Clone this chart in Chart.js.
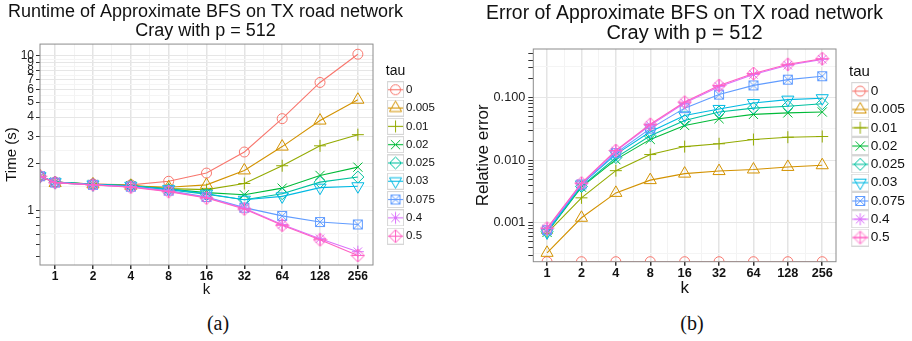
<!DOCTYPE html>
<html>
<head>
<meta charset="utf-8">
<script src="https://cdn.jsdelivr.net/npm/chart.js@4.4.1/dist/chart.umd.min.js"></script>
<style>
  html, body { margin: 0; padding: 0; background: #fff; width: 912px; height: 341px; overflow: hidden; }
  .wrap { position: absolute; top: 0; }
  .cap { position: absolute; top: 311px; line-height: 24px; font-family: "Liberation Serif", "DejaVu Serif", serif;
         font-size: 20px; color: #111; transform: translateX(-50%); }
</style>
</head>
<body>
<div class="wrap" style="left:-7px"><canvas id="runtimeChart" width="445" height="300"></canvas></div>
<div class="wrap" style="left:465px"><canvas id="errorChart" width="447" height="300"></canvas></div>
<div class="cap" style="left:218px">(a)</div>
<div class="cap" style="left:692px">(b)</div>
<script>
// ---- data ----
const tauLabels = ["0", "0.005", "0.01", "0.02", "0.025", "0.03", "0.075", "0.4", "0.5"];
const kTicks = [1, 2, 4, 8, 16, 32, 64, 128, 256];
const kTickLabels = ["1", "2", "4", "8", "16", "32", "64", "128", "256"];

// runtime: k = 0 comes first (log scale puts it on the left panel edge, as ggplot does)
const kRuntime = [0, 1, 2, 4, 8, 16, 32, 64, 128, 256];
const runtimeTau0    = [1.66, 1.52, 1.48, 1.46, 1.54, 1.74, 2.38, 3.91, 6.70, 10.2];
const runtimeTau0005 = [1.66, 1.50, 1.47, 1.44, 1.41, 1.46, 1.81, 2.58, 3.80, 5.18];
const runtimeTau001  = [1.66, 1.52, 1.48, 1.45, 1.38, 1.36, 1.49, 1.94, 2.61, 3.08];
const runtimeTau002  = [1.66, 1.52, 1.47, 1.44, 1.37, 1.30, 1.26, 1.39, 1.68, 1.90];
const runtimeTau0025 = [1.66, 1.52, 1.47, 1.44, 1.36, 1.27, 1.17, 1.28, 1.52, 1.64];
const runtimeTau003  = [1.66, 1.52, 1.47, 1.44, 1.37, 1.28, 1.17, 1.23, 1.40, 1.43];
const runtimeTau0075 = [1.66, 1.51, 1.46, 1.42, 1.34, 1.22, 1.04, 0.92, 0.84, 0.81];
const runtimeTau04   = [1.66, 1.51, 1.46, 1.42, 1.33, 1.21, 1.03, 0.81, 0.655, 0.54];
const runtimeTau05   = [1.66, 1.51, 1.46, 1.41, 1.32, 1.20, 1.02, 0.80, 0.645, 0.51];
const runtimeTickLabels = [1, 2, 3, 4, 5, 6, 7, 8, 9, 10];

// relative error: tau = 0 is exact (0), which sits on the bottom panel edge
const kError = [1, 2, 4, 8, 16, 32, 64, 128, 256];
const errorTau0    = [0, 0, 0, 0, 0, 0, 0, 0, 0];
const errorTau0005 = [0.00033, 0.0012, 0.0030, 0.0048, 0.0061, 0.0067, 0.0071, 0.0078, 0.0083];
const errorTau001  = [0.00068, 0.0025, 0.0068, 0.0123, 0.0165, 0.0183, 0.0214, 0.0233, 0.0239];
const errorTau002  = [0.00070, 0.0037, 0.0102, 0.0215, 0.0359, 0.046, 0.054, 0.057, 0.059];
const errorTau0025 = [0.00072, 0.0038, 0.0110, 0.0245, 0.043, 0.059, 0.068, 0.073, 0.080];
const errorTau003  = [0.00070, 0.0041, 0.0124, 0.0285, 0.052, 0.066, 0.082, 0.093, 0.098];
const errorTau0075 = [0.00076, 0.0041, 0.0130, 0.0320, 0.068, 0.112, 0.157, 0.194, 0.22];
const errorTau04   = [0.00080, 0.0042, 0.0140, 0.0360, 0.082, 0.150, 0.235, 0.33, 0.41];
const errorTau05   = [0.00082, 0.0043, 0.0143, 0.0375, 0.085, 0.157, 0.243, 0.342, 0.42];
const errorTickLabels = ["0.001", "0.010", "0.100"];

const runtimeSeries = [runtimeTau0, runtimeTau0005, runtimeTau001, runtimeTau002, runtimeTau0025,
                       runtimeTau003, runtimeTau0075, runtimeTau04, runtimeTau05];
const errorSeries = [errorTau0, errorTau0005, errorTau001, errorTau002, errorTau0025,
                     errorTau003, errorTau0075, errorTau04, errorTau05];

// ---- axis ranges (ggplot 5% expansion on log scales) ----
const kMin = Math.pow(2, -0.4), kMax = Math.pow(2, 8.4);
const runtimeMin = 0.443, runtimeMax = 11.86;
const errorMin = 0.000238, errorMax = 0.6;

// ---- style ----
Chart.defaults.font.family = '"Liberation Sans", Arial, Helvetica, sans-serif';
Chart.defaults.color = "#222";
const colors = ["#F8766D", "#D39200", "#93AA00", "#00BA38", "#00C19F", "#00B9E3", "#619CFF", "#DB72FB", "#FF61C3"];

function boxCross(color) {
  const c = document.createElement("canvas");
  c.width = 12; c.height = 12;
  const g = c.getContext("2d");
  g.strokeStyle = color; g.lineWidth = 1;
  g.strokeRect(1.5, 1.5, 9, 9);
  g.beginPath();
  g.moveTo(1.5, 1.5); g.lineTo(10.5, 10.5);
  g.moveTo(10.5, 1.5); g.lineTo(1.5, 10.5);
  g.stroke();
  return c;
}
function diamondPlus(color) {
  const c = document.createElement("canvas");
  c.width = 15; c.height = 15;
  const g = c.getContext("2d");
  g.strokeStyle = color; g.lineWidth = 1;
  g.beginPath();
  g.moveTo(7.5, 1); g.lineTo(14, 7.5); g.lineTo(7.5, 14); g.lineTo(1, 7.5); g.closePath();
  g.moveTo(7.5, 1); g.lineTo(7.5, 14);
  g.moveTo(1, 7.5); g.lineTo(14, 7.5);
  g.stroke();
  return c;
}

const markers = [
  { pointStyle: "circle", radius: 5, rotation: 0 },
  { pointStyle: "triangle", radius: 7, rotation: 0 },
  { pointStyle: "cross", radius: 6, rotation: 0 },
  { pointStyle: "crossRot", radius: 6.5, rotation: 0 },
  { pointStyle: "rectRot", radius: 6, rotation: 0 },
  { pointStyle: "triangle", radius: 7, rotation: 180 },
  { pointStyle: boxCross(colors[6]), radius: 6, rotation: 0 },
  { pointStyle: "star", radius: 6, rotation: 0 },
  { pointStyle: diamondPlus(colors[8]), radius: 7, rotation: 0 },
];

// legend key: grey framed box with the line and marker, drawn at the right end of the image
function makeKey(i, boxSize, imgW) {
  const c = document.createElement("canvas");
  c.width = imgW; c.height = boxSize;
  const g = c.getContext("2d");
  const x0 = imgW - boxSize;
  g.fillStyle = "#fff";
  g.fillRect(x0, 0, boxSize, boxSize);
  g.strokeStyle = "#d6d6d6"; g.lineWidth = 1;
  g.strokeRect(x0 + 0.5, 0.5, boxSize - 1, boxSize - 1);
  const cx = x0 + boxSize / 2, cy = boxSize / 2;
  g.strokeStyle = colors[i]; g.lineWidth = 1.1;
  g.beginPath(); g.moveTo(x0 + 1, cy); g.lineTo(x0 + boxSize - 1, cy); g.stroke();
  const m = markers[i];
  if (typeof m.pointStyle === "string") {
    g.fillStyle = "rgba(0,0,0,0)"; g.lineWidth = 1;
    Chart.helpers.drawPoint(g, { pointStyle: m.pointStyle, radius: m.radius, rotation: m.rotation, borderWidth: 1 }, cx, cy);
  } else {
    g.drawImage(m.pointStyle, cx - m.pointStyle.width / 2, cy - m.pointStyle.height / 2);
  }
  return c;
}

const panelBorder = {
  id: "panelBorder",
  afterDatasetsDraw(chart) {
    const { ctx, chartArea: a } = chart;
    ctx.save();
    ctx.strokeStyle = "#8c8c8c";
    ctx.lineWidth = 1;
    ctx.strokeRect(a.left, a.top, a.right - a.left, a.bottom - a.top);
    ctx.restore();
  }
};

// the legend box stays narrow (so "tau" centres like ggplot's), but its labels may run past it
const legendOverflow = {
  id: "legendOverflow",
  afterLayout(chart) {
    if (chart.legend) chart.legend.right = chart.width;
  }
};

function makeDataset(i, xs, ys, xFloor, yFloor) {
  const m = markers[i];
  return {
    label: tauLabels[i],
    data: xs.map((x, j) => ({ x: x > 0 ? x : xFloor, y: ys[j] > 0 ? ys[j] : yFloor })),
    borderColor: colors[i],
    backgroundColor: "transparent",
    pointBorderColor: colors[i],
    pointBackgroundColor: "transparent",
    pointStyle: m.pointStyle,
    pointRadius: m.radius,
    pointRotation: m.rotation,
    pointBorderWidth: 1,
    borderWidth: 1.1,
    tension: 0,
    clip: 0,
    order: tauLabels.length - i,
  };
}

function legendOptions(keys, fontSize, pad, boxW, titleSize, titlePad, maxWidth) {
  return {
    position: "right",
    align: "center",
    fullSize: false,
    maxWidth: maxWidth,
    title: { display: true, text: "tau", position: "center", color: "#111", font: { size: titleSize }, padding: titlePad },
    labels: {
      usePointStyle: true,
      pointStyleWidth: boxW,
      padding: pad,
      color: "#111",
      font: { size: fontSize },
      generateLabels: (chart) => chart.data.datasets.map((ds, i) => ({
        text: ds.label, pointStyle: keys[i], datasetIndex: i, hidden: false,
        lineWidth: 0, fillStyle: "transparent", strokeStyle: "transparent",
      })),
    },
  };
}

const xMinor = [0.5, 1.5, 2.5, 3.5, 4.5, 5.5, 6.5, 7.5].map(e => Math.pow(2, e));
function xScale(height, fontSize, titleSize) {
  return {
    type: "logarithmic", position: "bottom", bounds: "data", min: kMin, max: kMax,
    afterBuildTicks: (s) => { s.ticks = kTicks.concat(xMinor).sort((a, b) => a - b).map(v => ({ value: v })); },
    afterFit: (s) => { s.height = height; },
    ticks: {
      autoSkip: false, maxRotation: 0, minRotation: 0, padding: 0, color: "#111",
      font: { size: fontSize, weight: "bold" },
      callback: (v) => { const i = kTicks.indexOf(v); return i >= 0 ? kTickLabels[i] : ""; },
    },
    grid: {
      color: (c) => (c.tick && kTicks.includes(c.tick.value)) ? "#e4e4e4" : "#f3f3f3",
      lineWidth: (c) => (c.tick && kTicks.includes(c.tick.value)) ? 1.5 : 1,
      tickColor: (c) => (c.tick && kTicks.includes(c.tick.value)) ? "#333" : "rgba(0,0,0,0)",
      tickLength: 4,
    },
    border: { display: false },
    title: { display: true, text: "k", color: "#111", font: { size: titleSize }, padding: { top: 0, bottom: 1 } },
  };
}

// ---- (a) runtime ----
const runtimeLogTicks = [0.5, 0.6, 0.7, 0.8, 0.9, 1, 2, 3, 4, 5, 6, 7, 8, 9, 10];
const runtimeMinor = [0.5, 1, 2, 3, 4, 5, 6, 7, 8, 9].map((v, i) => i === 0 ? Math.sqrt(0.5) : Math.sqrt(v * (v + 1)));
const runtimeKeys = tauLabels.map((t, i) => makeKey(i, 17, 28));

new Chart(document.getElementById("runtimeChart").getContext("2d"), {
  type: "line",
  data: { datasets: runtimeSeries.map((ys, i) => makeDataset(i, kRuntime, ys, kMin, runtimeMin)) },
  options: {
    responsive: false, animation: false, events: [],
    layout: { padding: { left: 0, right: 20, top: 0, bottom: 0 } },
    plugins: {
      title: {
        display: true, color: "#111",
        text: ["Runtime of Approximate BFS on TX road network", "Cray with p = 512"],
        font: { size: 18, weight: "normal", lineHeight: 1.03 },
        padding: { top: 3.25, bottom: 3.75 },
      },
      legend: legendOptions(runtimeKeys, 11.5, 6.8, 20.5, 14, { top: 4, bottom: -4 }, 45),
      tooltip: { enabled: false },
    },
    scales: {
      x: xScale(35, 12, 15),
      y: {
        type: "logarithmic", bounds: "data", min: runtimeMin, max: runtimeMax,
        afterBuildTicks: (s) => { s.ticks = runtimeLogTicks.concat(runtimeMinor).sort((a, b) => a - b).map(v => ({ value: v })); },
        afterFit: (s) => { s.width = 47; },
        ticks: {
          autoSkip: false, padding: 2, color: "#222", font: { size: 12 },
          callback: (v) => runtimeTickLabels.includes(v) ? String(v) : "",
        },
        grid: {
          color: (c) => !c.tick ? "rgba(0,0,0,0)" : runtimeTickLabels.includes(c.tick.value) ? "#e6e6e6"
                        : runtimeMinor.includes(c.tick.value) ? "#f4f4f4" : "rgba(0,0,0,0)",
          tickColor: (c) => (c.tick && runtimeLogTicks.includes(c.tick.value)) ? "#333" : "rgba(0,0,0,0)",
          tickLength: 4,
        },
        border: { display: false },
        title: { display: true, text: "Time (s)", color: "#111", font: { size: 15 }, padding: { top: 10, bottom: 0 } },
      },
    },
  },
  plugins: [panelBorder, legendOverflow],
});

// ---- (b) relative error ----
const errorLogTicks = [];
[-4, -3, -2, -1].forEach(e => { for (let m = 1; m <= 9; m++) { const v = m * Math.pow(10, e); if (v > errorMin && v < errorMax) errorLogTicks.push(v); } });
const errorMajor = [0.001, 0.01, 0.1];
const errorMinor = [-3.5, -2.5, -1.5, -0.5].map(e => Math.pow(10, e));
const isDecade = (v) => Math.abs(Math.log10(v) - Math.round(Math.log10(v))) < 1e-9;
const errorKeys = tauLabels.map((t, i) => makeKey(i, 18, 34));

new Chart(document.getElementById("errorChart").getContext("2d"), {
  type: "line",
  data: { datasets: errorSeries.map((ys, i) => makeDataset(i, kError, ys, kMin, errorMin)) },
  options: {
    responsive: false, animation: false, events: [],
    layout: { padding: { left: 21, right: 29, top: 0, bottom: 0 } },
    plugins: {
      title: {
        display: true, color: "#111",
        text: ["Error of Approximate BFS on TX road network", "Cray with p = 512"],
        font: { size: 20, weight: "normal", lineHeight: 1.0 },
        padding: { top: 3.5, bottom: 5.5 },
      },
      legend: legendOptions(errorKeys, 13.7, 4.6, 23.25, 15, { top: 2.5, bottom: -2.5 }, 47),
      tooltip: { enabled: false },
    },
    scales: {
      x: xScale(38.3, 12.7, 17),
      y: {
        type: "logarithmic", bounds: "data", min: errorMin, max: errorMax,
        afterBuildTicks: (s) => { s.ticks = errorLogTicks.concat(errorMinor).sort((a, b) => a - b).map(v => ({ value: v })); },
        afterFit: (s) => { s.width = 47.3; },
        ticks: {
          autoSkip: false, padding: 3, color: "#222", font: { size: 12.7 },
          callback: (v) => { const i = errorMajor.findIndex(d => Math.abs(d - v) < 1e-12); return i >= 0 ? errorTickLabels[i] : ""; },
        },
        grid: {
          color: (c) => !c.tick ? "rgba(0,0,0,0)" : isDecade(c.tick.value) ? "#e6e6e6"
                        : errorMinor.includes(c.tick.value) ? "#f4f4f4" : "rgba(0,0,0,0)",
          tickColor: (c) => (c.tick && errorLogTicks.includes(c.tick.value)) ? "#333" : "rgba(0,0,0,0)",
          tickLength: 5,
        },
        border: { display: false },
        title: { display: true, text: "Relative error", color: "#111", font: { size: 17 }, padding: { top: -13.2, bottom: 0 } },
      },
    },
  },
  plugins: [panelBorder, legendOverflow],
});
</script>
</body>
</html>
